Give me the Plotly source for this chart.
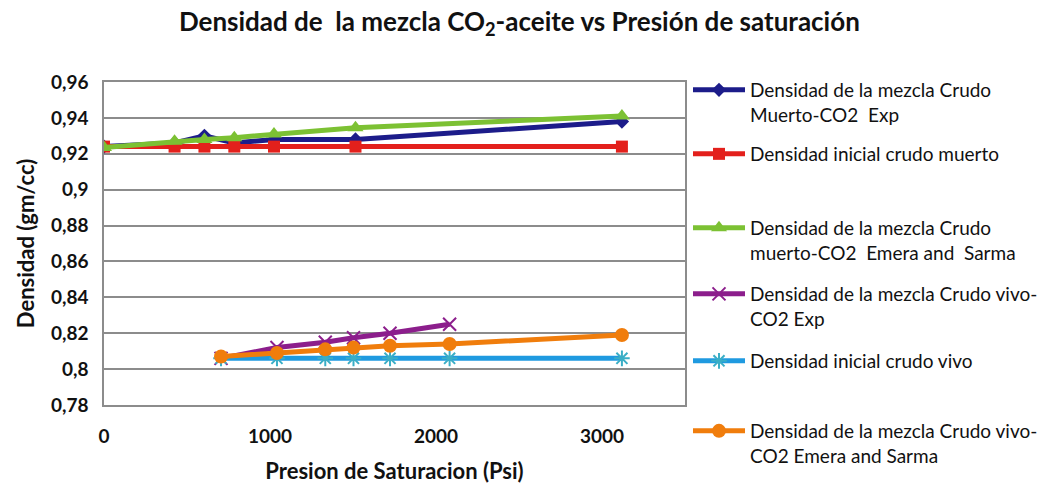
import plotly.graph_objects as go

# Saturation pressure (psi) for each measurement set
p_dead = [0, 425, 605, 785, 1024, 1515, 3120]
p_live = [705, 1042, 1333, 1503, 1723, 2082, 3120]
p_live_exp = [705, 1042, 1333, 1503, 1723, 2082]

# Densities (gm/cc)
dens_dead_exp = [0.924, 0.926, 0.930, 0.926, 0.928, 0.928, 0.938]
dens_dead_init = [0.924, 0.924, 0.924, 0.924, 0.924, 0.924, 0.924]
dens_dead_es = [0.9235, 0.927, 0.928, 0.929, 0.931, 0.9345, 0.941]
dens_live_exp = [0.806, 0.812, 0.815, 0.8175, 0.820, 0.825]
dens_live_init = [0.806, 0.806, 0.806, 0.806, 0.806, 0.806, 0.806]
dens_live_es = [0.807, 0.809, 0.811, 0.812, 0.813, 0.814, 0.819]

names = [
    "Densidad de la mezcla Crudo<br>Muerto-CO2  Exp",
    "Densidad inicial crudo muerto",
    "Densidad de la mezcla Crudo<br>muerto-CO2  Emera and  Sarma",
    "Densidad de la mezcla Crudo vivo-<br>CO2 Exp",
    "Densidad inicial crudo vivo",
    "Densidad de la mezcla Crudo vivo-<br>CO2 Emera and Sarma",
]

x_tick_vals = [0, 1000, 2000, 3000]
x_tick_text = ["0", "1000", "2000", "3000"]

FONT = "Lato"
INK = "#111111"
W, H = 1045, 484
L, R, T, B = 104, 360, 82, 79
plot_h = H - T - B
plot_w = W - L - R


def py(pix):
    return (H - B - pix) / plot_h


def px(pix):
    return (pix - L) / plot_w


series = [
    (p_dead, dens_dead_exp, "#1c1c8a", dict(symbol="diamond", size=11, color="#1c1c8a")),
    (p_dead, dens_dead_init, "#e3201c", dict(symbol="square", size=12, color="#e3201c")),
    (p_dead, dens_dead_es, "#7cc133", dict(symbol="triangle-up", size=14, color="#7cc133")),
    (p_live_exp, dens_live_exp, "#8c1e8c",
     dict(symbol="x-thin-open", size=13, color="#8c1e8c", line=dict(width=2, color="#8c1e8c"))),
    (p_live, dens_live_init, "#1f9ae0",
     dict(symbol="asterisk-open", size=13, color="#3aaec6", line=dict(width=2, color="#3aaec6"))),
    (p_live, dens_live_es, "#f07d0c", dict(symbol="circle", size=14, color="#f07d0c")),
]

# top edge (px) of each legend block
legend_tops = [71, 135, 209, 275, 342, 412]

fig = go.Figure()
for i, (xs, ys, col, mk) in enumerate(series):
    lg = "legend" if i == 0 else f"legend{i + 1}"
    fig.add_trace(go.Scatter(
        x=xs, y=ys, name=names[i], mode="lines+markers",
        line=dict(color=col, width=5), marker=mk, legend=lg, showlegend=True,
    ))

legend_common = dict(
    xanchor="left", yanchor="top", valign="top", itemwidth=52,
    bgcolor="rgba(0,0,0,0)", borderwidth=0,
    font=dict(family=FONT, size=19, color=INK),
)
layout_legends = {}
for i, top in enumerate(legend_tops):
    key = "legend" if i == 0 else f"legend{i + 1}"
    layout_legends[key] = dict(x=px(688), y=py(top), **legend_common)

fig.update_layout(
    width=W, height=H,
    margin=dict(l=L, r=R, t=T, b=B, autoexpand=False),
    paper_bgcolor="white", plot_bgcolor="white",
    separators=",.",
    showlegend=True,
    title=dict(
        text="Densidad de  la mezcla CO<sub>2</sub>-aceite vs Presión de saturación",
        x=0.497, xanchor="center", y=0.955, yanchor="middle",
        font=dict(family=FONT, size=26, color=INK, weight="bold"),
    ),
    xaxis=dict(
        range=[0, 3500], tickvals=x_tick_vals, ticktext=x_tick_text,
        showgrid=False, zeroline=False,
        showline=True, linecolor="#8c8c8c", linewidth=1.5, mirror=True,
        ticks="", ticklabelstandoff=13,
        tickfont=dict(family=FONT, size=19, color=INK, weight="bold"),
        title=dict(text="Presion de Saturacion (Psi)", standoff=18,
                   font=dict(family=FONT, size=22, color=INK, weight="bold")),
    ),
    yaxis=dict(
        range=[0.78, 0.96], dtick=0.02, tick0=0.78,
        showgrid=True, gridcolor="#8c8c8c", gridwidth=1.5, zeroline=False,
        showline=True, linecolor="#8c8c8c", linewidth=1.5, mirror=True,
        ticks="", ticklabelstandoff=10,
        tickfont=dict(family=FONT, size=19, color=INK, weight="bold"),
        title=dict(text="Densidad (gm/cc)", standoff=10,
                   font=dict(family=FONT, size=22, color=INK, weight="bold")),
    ),
    **layout_legends,
)

fig.write_html("out.html")
